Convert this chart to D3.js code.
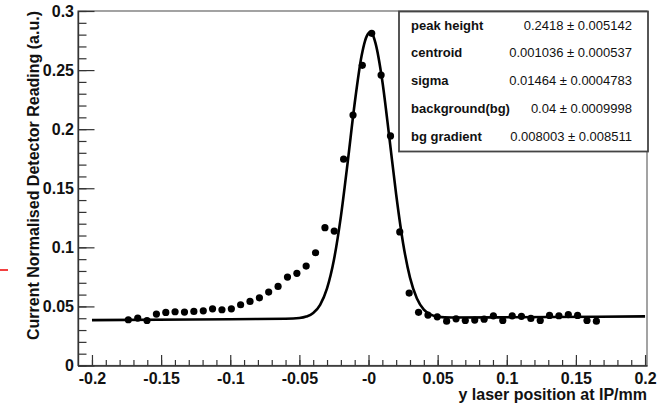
<!DOCTYPE html>
<html>
<head>
<meta charset="utf-8">
<script src="https://d3js.org/d3.v7.min.js"></script>
<style>
  body { margin: 0; background: #fff; }
  svg { display: block; font-family: "Liberation Sans", Arial, sans-serif; }
</style>
</head>
<body>
<div id="chart"></div>
<script>
  // measured points (y laser position, normalised reading)
  const scanX = [
    -0.1737, -0.1669, -0.1602, -0.1534, -0.1466, -0.1399, -0.1331, -0.1263, -0.1195, -0.1128,
    -0.1060, -0.0992, -0.0925, -0.0857, -0.0789, -0.0722, -0.0654, -0.0586, -0.0518, -0.0451,
    -0.0383, -0.0315, -0.0248, -0.0180, -0.0112, -0.0045, 0.0023, 0.0091, 0.0159, 0.0226,
    0.0294, 0.0362, 0.0430, 0.0497, 0.0565, 0.0633, 0.0700, 0.0768, 0.0836, 0.0903,
    0.0971, 0.1039, 0.1106, 0.1174, 0.1242, 0.1309, 0.1377, 0.1445, 0.1512, 0.1580, 0.1648
  ];
  const scanY = [
    0.0387, 0.0401, 0.0381, 0.0435, 0.0449, 0.0455, 0.0452, 0.0458, 0.0463, 0.0480,
    0.0472, 0.0480, 0.0514, 0.0542, 0.0573, 0.0621, 0.0669, 0.0748, 0.0780, 0.0841,
    0.0954, 0.1166, 0.1138, 0.1746, 0.2119, 0.2540, 0.2811, 0.2458, 0.1943, 0.1130,
    0.0613, 0.0450, 0.0427, 0.0412, 0.0375, 0.0395, 0.0381, 0.0384, 0.0392, 0.0420,
    0.0381, 0.0420, 0.0416, 0.0398, 0.0381, 0.0424, 0.0421, 0.0431, 0.0424, 0.0381, 0.0375
  ];

  // fitted curve
  const fitX = [
    -0.2, -0.1, -0.06, -0.05, -0.045, -0.04, -0.035, -0.03, -0.025, -0.02, -0.015, -0.01,
    -0.005, -0.0025, 0, 0.001, 0.0025, 0.005, 0.01, 0.015, 0.02, 0.025, 0.03, 0.035, 0.04,
    0.045, 0.05, 0.06, 0.1, 0.2
  ];
  const fitY = [
    0.0384, 0.0392, 0.0396, 0.0402, 0.0414, 0.0444, 0.0514, 0.0653, 0.0895, 0.1260, 0.1726, 0.2219,
    0.2621, 0.2748, 0.2812, 0.2818, 0.2810, 0.2731, 0.2406, 0.1936, 0.1447, 0.1035, 0.0744, 0.0567, 0.0473,
    0.0430, 0.0413, 0.0406, 0.0408, 0.0416
  ];

  const xTicks = [-0.2, -0.15, -0.1, -0.05, 0, 0.05, 0.1, 0.15, 0.2];
  const xTickLabels = ["-0.2", "-0.15", "-0.1", "-0.05", "-0", "0.05", "0.1", "0.15", "0.2"];
  const yTicks = [0, 0.05, 0.1, 0.15, 0.2, 0.25, 0.3];
  const yTickLabels = ["0", "0.05", "0.1", "0.15", "0.2", "0.25", "0.3"];

  const statNames = ["peak height", "centroid", "sigma", "background(bg)", "bg gradient"];
  const statValues = ["0.2418", "0.001036", "0.01464", "0.04", "0.008003"];
  const statErrors = ["0.005142", "0.000537", "0.0004783", "0.0009998", "0.008511"];

  const width = 666, height = 406;
  const frameL = 78, frameR = 647, frameT = 11, frameB = 365.5;

  const svg = d3.select("#chart").append("svg")
    .attr("width", width)
    .attr("height", height);

  const x = d3.scaleLinear().domain([-0.2101, 0.2014]).range([frameL, frameR]);
  const y = d3.scaleLinear().domain([0, 0.3]).range([frameB, frameT]);

  // frame
  svg.append("rect")
    .attr("x", frameL).attr("y", frameT)
    .attr("width", frameR - frameL).attr("height", frameB - frameT)
    .attr("fill", "none")
    .attr("stroke", "#666")
    .attr("stroke-width", 1.2);

  // minor ticks
  const xMinor = d3.range(-20, 21).map(i => i / 100);
  const yMinor = d3.range(0, 31).map(i => i / 100);

  svg.append("g")
    .attr("transform", `translate(0,${frameB})`)
    .call(d3.axisBottom(x).tickValues(xMinor).tickSizeInner(-5.5).tickSizeOuter(0).tickFormat(""))
    .call(g => g.selectAll("line, path").attr("stroke", "#333").attr("stroke-width", 1.2));

  svg.append("g")
    .attr("transform", `translate(${frameL},0)`)
    .call(d3.axisLeft(y).tickValues(yMinor).tickSizeInner(-8.5).tickSizeOuter(0).tickFormat(""))
    .call(g => g.selectAll("line, path").attr("stroke", "#333").attr("stroke-width", 1.2));

  // major ticks + labels
  svg.append("g")
    .attr("transform", `translate(0,${frameB})`)
    .call(d3.axisBottom(x).tickValues(xTicks).tickSizeInner(-10.5).tickSizeOuter(0).tickPadding(7)
      .tickFormat((d, i) => xTickLabels[i]))
    .call(g => g.selectAll("line, path").attr("stroke", "#333").attr("stroke-width", 1.2))
    .call(g => g.selectAll("text").attr("font-size", 16).attr("font-weight", "bold")
      .attr("font-family", "'Liberation Sans', Arial, sans-serif").attr("fill", "#111"));

  svg.append("g")
    .attr("transform", `translate(${frameL},0)`)
    .call(d3.axisLeft(y).tickValues(yTicks).tickSizeInner(-16.5).tickSizeOuter(0).tickPadding(4)
      .tickFormat((d, i) => yTickLabels[i]))
    .call(g => g.selectAll("line, path").attr("stroke", "#333").attr("stroke-width", 1.2))
    .call(g => g.selectAll("text").attr("font-size", 16).attr("font-weight", "bold")
      .attr("font-family", "'Liberation Sans', Arial, sans-serif").attr("fill", "#111"));

  // axis titles
  svg.append("text")
    .attr("x", frameR).attr("y", 399.5)
    .attr("text-anchor", "end")
    .attr("font-size", 16).attr("font-weight", "bold").attr("fill", "#111")
    .text("y laser position at IP/mm");

  svg.append("text")
    .attr("transform", `translate(38.5,${frameT}) rotate(-90)`)
    .attr("text-anchor", "end")
    .attr("font-size", 16).attr("font-weight", "bold").attr("fill", "#111")
    .text("Current Normalised Detector Reading (a.u.)");

  // fit curve
  const fitPts = fitX.map((d, i) => [d, fitY[i]]);
  svg.append("path")
    .datum(fitPts)
    .attr("fill", "none")
    .attr("stroke", "#000")
    .attr("stroke-width", 2.6)
    .attr("d", d3.line().x(d => x(d[0])).y(d => y(d[1])).curve(d3.curveMonotoneX));

  // data points
  svg.append("g").selectAll("circle")
    .data(scanX.map((d, i) => [d, scanY[i]]))
    .join("circle")
    .attr("cx", d => x(d[0]))
    .attr("cy", d => y(d[1]))
    .attr("r", 3.6)
    .attr("fill", "#000");

  // stats box
  const box = svg.append("g");
  box.append("rect")
    .attr("x", 399).attr("y", 11.5)
    .attr("width", 648 - 399).attr("height", 151.5 - 11.5)
    .attr("fill", "#fff")
    .attr("stroke", "#444")
    .attr("stroke-width", 1.8);

  const rowY = d3.scalePoint().domain(statNames).range([29.5, 140.5]);

  box.selectAll(".stat-name")
    .data(statNames)
    .join("text")
    .attr("class", "stat-name")
    .attr("x", 411).attr("y", d => rowY(d))
    .attr("font-size", 13).attr("font-weight", "bold").attr("fill", "#111")
    .text(d => d);

  box.selectAll(".stat-val")
    .data(statNames)
    .join("text")
    .attr("class", "stat-val")
    .attr("x", 632).attr("y", d => rowY(d))
    .attr("text-anchor", "end")
    .attr("font-size", 13).attr("fill", "#111")
    .text((d, i) => `${statValues[i]} \u00b1 ${statErrors[i]}`);

  // small red mark at the left edge
  svg.append("line")
    .attr("x1", 0).attr("x2", 8)
    .attr("y1", 270).attr("y2", 270)
    .attr("stroke", "#e00")
    .attr("stroke-width", 1.5);
</script>
</body>
</html>
